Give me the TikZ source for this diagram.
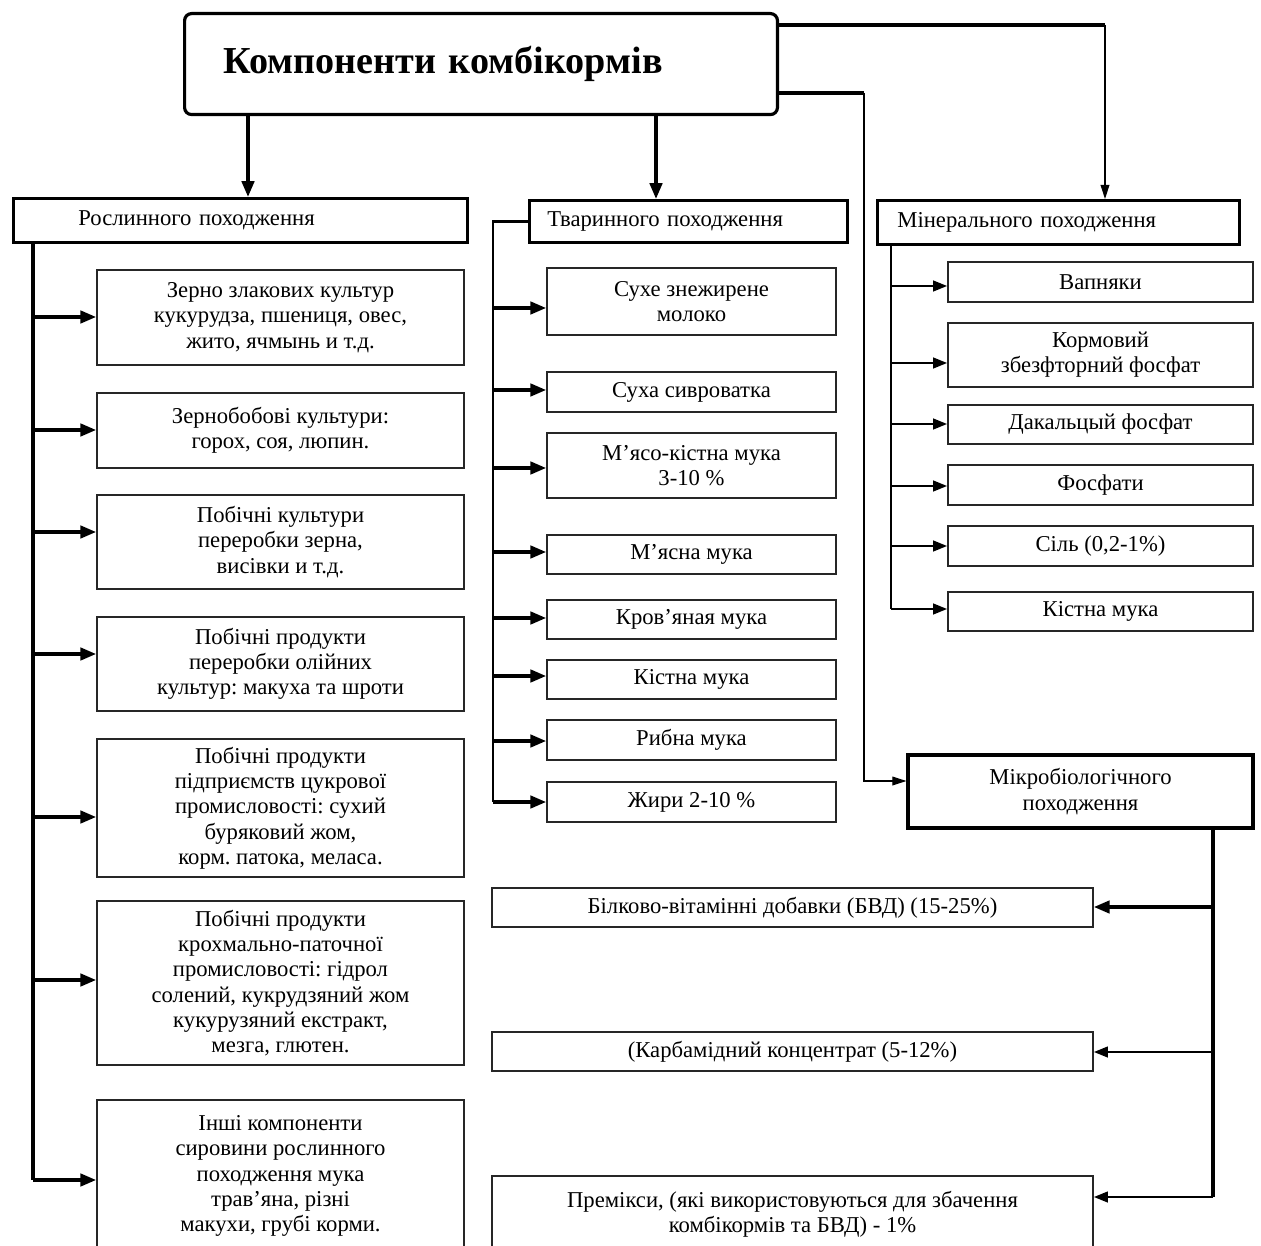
\documentclass[tikz,border=0pt]{standalone}
\usepackage{fontspec}
\setmainfont{Liberation Serif}
\usetikzlibrary{arrows.meta}
\frenchspacing
\newcommand\fs{\fontsize{12.9}{14.4}\selectfont}
\newcommand\bx[7][]{\node[box,#1,minimum width={(#5-#3)*0.02cm},minimum height={(#6-#4)*0.02cm}] (#2) at ({(#3+#5)/2},{(#4+#6)/2}) {#7};}
\begin{document}
\begin{tikzpicture}[x=0.02cm,y=-0.02cm,
  box/.style={draw=black!85,line width=0.9pt,align=center,inner sep=0pt,font=\fs},
  hdr/.style={draw,line width=1.6pt,align=left,inner ysep=0pt,anchor=north west,font=\fs},
  topbox/.style={draw,line width=1.8pt,rounded corners=4pt,align=left,inner ysep=0pt,anchor=north west,font=\fontsize{21.7}{26}\selectfont\bfseries},
  arr/.style={line width=2pt,-{Triangle[length=9pt,width=7pt]}},
  arrm/.style={line width=1.4pt,-{Triangle[length=8pt,width=6pt]}},
  arrt/.style={line width=0.6pt,-{Triangle[length=8pt,width=5pt]}},
  ln/.style={line width=2pt},
  lnm/.style={line width=1.3pt},
  lnt/.style={line width=0.6pt}]
\useasboundingbox (0,0) rectangle (1261,1246);
\clip (0,0) rectangle (1261,1246);

% top box
\node[topbox,minimum width=11.86cm,minimum height=2.02cm,text width=10.3cm,inner xsep=0.78cm] (top) at (183,12) {Компоненти комбікормів};

% headers
\node[hdr,minimum width=9.08cm,minimum height=0.88cm,text width=6.48cm,inner xsep=1.3cm] (rh) at (12,197) {Рослинного походження};
\node[hdr,minimum width=6.36cm,minimum height=0.84cm,text width=5.64cm,inner xsep=0.36cm] (th) at (528,199) {Тваринного походження};
\node[hdr,minimum width=7.24cm,minimum height=0.88cm,text width=6.44cm,inner xsep=0.4cm] (mh) at (876,199) {Мінерального походження};

% left column
\bx{l1}{97}{270}{464}{365}{Зерно злакових культур\\кукурудза, пшениця, овес,\\жито, ячмынь и т.д.}
\bx{l2}{97}{393}{464}{468}{Зернобобові культури:\\горох, соя, люпин.}
\bx{l3}{97}{495}{464}{589}{Побічні культури\\переробки зерна,\\висівки и т.д.}
\bx{l4}{97}{617}{464}{711}{Побічні продукти\\переробки олійних\\культур: макуха та шроти}
\bx{l5}{97}{739}{464}{877}{Побічні продукти\\підприємств цукрової\\промисловості: сухий\\буряковий жом,\\корм. патока, меласа.}
\bx{l6}{97}{901}{464}{1065}{Побічні продукти\\крохмально-паточної\\промисловості: гідрол\\солений, кукрудзяний жом\\кукурузяний екстракт,\\мезга, глютен.}
\bx{l7}{97}{1100}{464}{1252}{Інші компоненти\\сировини рослинного\\походження мука\\трав’яна, різні\\макухи, грубі корми.}

% middle column
\bx{t1}{547}{268}{836}{335}{Сухе знежирене\\молоко}
\bx{t2}{547}{372}{836}{412}{Суха сивроватка}
\bx{t3}{547}{433}{836}{498}{М’ясо-кістна мука\\3-10 \%}
\bx{t4}{547}{535}{836}{574}{М’ясна мука}
\bx{t5}{547}{600}{836}{639}{Кров’яная мука}
\bx{t6}{547}{660}{836}{699}{Кістна мука}
\bx{t7}{547}{720}{836}{760}{Рибна мука}
\bx{t8}{547}{782}{836}{822}{Жири 2-10 \%}

% mineral column
\bx{m1}{948}{262}{1253}{302}{Вапняки}
\bx{m2}{948}{323}{1253}{387}{Кормовий\\збезфторний фосфат}
\bx{m3}{948}{405}{1253}{444}{Дакальцый фосфат}
\bx{m4}{948}{465}{1253}{505}{Фосфати}
\bx{m5}{948}{526}{1253}{566}{Сіль (0,2-1\%)}
\bx{m6}{948}{592}{1253}{631}{Кістна мука}

% microbiological
\bx[line width=1.8pt,draw=black]{mb}{908}{755}{1253}{828}{Мікробіологічного\\походження}

% bottom boxes
\bx{b1}{492}{888}{1093}{927}{Білково-вітамінні добавки (БВД) (15-25\%)}
\bx{b2}{492}{1032}{1093}{1071}{(Карбамідний концентрат (5-12\%)}
\bx{b3}{492}{1176}{1093}{1252}{Премікси, (які використовуються для збачення\\комбікормів та БВД) - 1\%}

% connectors from top
\draw[arr] (top.south -| 248,0) -- (rh.north -| 248,0);
\draw[arr] (top.south -| 656,0) -- (th.north -| 656,0);
\coordinate (c1) at (1105,25);
\coordinate (c2) at (864,93);
\draw[ln] (top.east |- c1) -- (c1);
\draw[arrt] (c1) -- (mh.north -| c1);
\draw[ln] (top.east |- c2) -- (c2);
\draw[arrt] (c2) |- (mb.west |- 0,781);

% left column connectors
\coordinate (lx) at (33,0);
\draw[ln] (rh.south -| lx) -- (lx |- 0,1180);
\foreach \n/\yy in {l1/317,l2/430,l3/532,l4/654,l5/817,l6/980,l7/1180}
  \draw[arr] (lx |- 0,\yy) -- (\n.west |- 0,\yy);

% middle column connectors
\coordinate (mx) at (493,0);
\draw[lnm] (th.west) -- (th.west -| mx) -- (mx |- 0,802);
\foreach \n/\yy in {t1/308,t2/390,t3/468,t4/552,t5/618,t6/676,t7/741,t8/802}
  \draw[arr] (mx |- 0,\yy) -- (\n.west |- 0,\yy);

% mineral connectors
\coordinate (rx) at (891,0);
\draw[lnm] (mh.south -| rx) -- (rx |- 0,609);
\foreach \n/\yy in {m1/286,m2/363,m3/424,m4/486,m5/546,m6/609}
  \draw[arrm] (rx |- 0,\yy) -- (\n.west |- 0,\yy);

% microbiological connectors
\coordinate (bx) at (1213,0);
\draw[ln] (mb.south -| bx) -- (bx |- 0,1197);
\draw[arr] (bx |- 0,907) -- (b1.east |- 0,907);
\draw[arrm] (bx |- 0,1052) -- (b2.east |- 0,1052);
\draw[arrm] (bx |- 0,1197) -- (b3.east |- 0,1197);
\end{tikzpicture}
\end{document}
